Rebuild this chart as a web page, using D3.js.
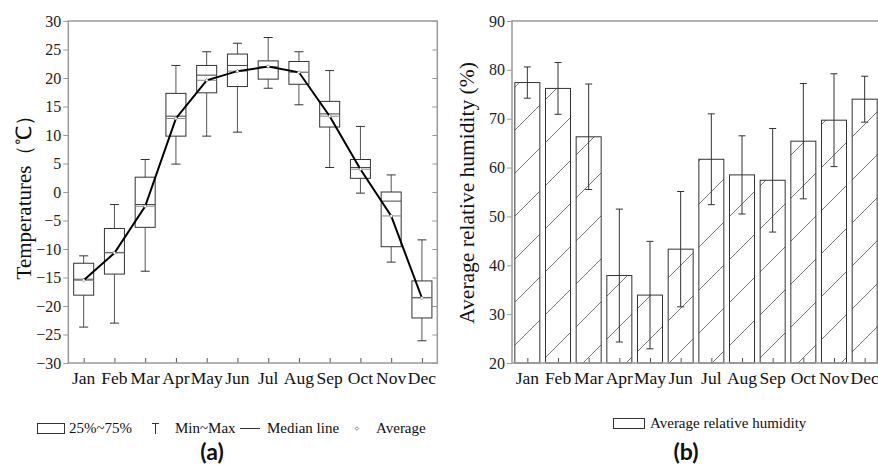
<!DOCTYPE html>
<html>
<head>
<meta charset="utf-8">
<script src="https://cdn.jsdelivr.net/npm/d3@7"></script>
<style>
  body { margin: 0; background: #fff; }
  .tick text { fill: #222; }
</style>
</head>
<body>
<div id="chart"></div>
<script>
// Данные — температура (a)
const months = ['Jan', 'Feb', 'Mar', 'Apr', 'May', 'Jun', 'Jul', 'Aug', 'Sep', 'Oct', 'Nov', 'Dec'];
const tempMin = [-23.7, -23.0, -13.9, 4.9, 9.8, 10.5, 18.2, 15.3, 4.3, -0.2, -12.3, -26.1];
const tempQ1 = [-18.1, -14.4, -6.2, 9.8, 17.4, 18.5, 19.8, 18.9, 11.4, 2.4, -9.6, -22.1];
const tempMedian = [-15.3, -10.6, -2.2, 13.3, 20.5, 22.2, 22.0, 21.0, 13.7, 4.3, -1.6, -18.5];
const tempQ3 = [-12.5, -6.4, 2.6, 17.3, 22.2, 24.2, 23.0, 22.9, 15.9, 5.7, 0.0, -15.6];
const tempMax = [-11.2, -2.2, 5.7, 22.2, 24.6, 26.1, 27.1, 24.6, 21.3, 11.5, 3.0, -8.4];
const tempMean = [-15.5, -10.7, -2.5, 12.9, 19.6, 21.2, 22.0, 21.0, 13.3, 4.0, -4.2, -18.6];
const tempTicks = [-30, -25, -20, -15, -10, -5, 0, 5, 10, 15, 20, 25, 30];

// Данные — влажность (b)
const humMean = [77.4, 76.2, 66.3, 37.9, 33.9, 43.3, 61.7, 58.5, 57.4, 65.4, 69.7, 74.0];
const humSd = [3.2, 5.3, 10.8, 13.6, 11.0, 11.8, 9.3, 8.0, 10.6, 11.8, 9.5, 4.7];
const humTicks = [20, 30, 40, 50, 60, 70, 80, 90];

const width = 878;
const height = 469;
const serif = "'Liberation Serif', 'Times New Roman', serif";
const frameColor = '#9a9a9a';
const markColor = '#333';

const svg = d3.select('#chart')
  .append('svg')
  .attr('width', width)
  .attr('height', height)
  .attr('font-family', serif)
  .style('display', 'block');

const defs = svg.append('defs');
const hatch = defs.append('pattern')
  .attr('id', 'hatch')
  .attr('patternUnits', 'userSpaceOnUse')
  .attr('width', 43)
  .attr('height', 43);
hatch.append('rect').attr('width', 43).attr('height', 43).attr('fill', '#fff');
hatch.append('path')
  .attr('d', 'M0,43 L43,0')
  .attr('stroke', '#555')
  .attr('stroke-width', 0.8);

// Рамка панели и оси
function drawFrame(g, x, y, ticks, right) {
  const [x0, x1] = x.range();
  const [y0, y1] = y.range();

  const yAxis = g.append('g')
    .attr('transform', `translate(${x0},0)`)
    .call(d3.axisLeft(y).tickValues(ticks).tickSize(5).tickPadding(2));
  yAxis.attr('font-family', serif).attr('font-size', 16);
  yAxis.select('.domain').remove();
  yAxis.selectAll('.tick line').attr('stroke', frameColor);

  if (right) {
    const rAxis = g.append('g')
      .attr('transform', `translate(${x1},0)`)
      .call(d3.axisLeft(y).tickValues(ticks).tickSize(5).tickFormat(''));
    rAxis.select('.domain').remove();
    rAxis.selectAll('.tick line').attr('stroke', frameColor).attr('x2', -5);
  }

  const xAxis = g.append('g')
    .attr('transform', `translate(0,${y0})`)
    .call(d3.axisTop(x).tickValues(d3.range(1, 13)).tickSize(5).tickFormat(''));
  xAxis.select('.domain').remove();
  xAxis.selectAll('.tick line').attr('stroke', '#555');

  g.selectAll('.month')
    .data(months)
    .enter()
    .append('text')
    .attr('class', 'month')
    .attr('x', (d, i) => x(i + 1))
    .attr('y', y0 + 21)
    .attr('text-anchor', 'middle')
    .attr('font-size', 17.5)
    .attr('fill', '#111')
    .text((d) => d);

  g.append('path')
    .attr('fill', 'none')
    .attr('stroke', frameColor)
    .attr('stroke-width', 1.5)
    .attr('d', `M${x0},${y1} L${x0},${y0} L${x1},${y0} L${x1},${y1} Z`);
}

// (a) Box plot
const xA = d3.scaleLinear().domain([0.5, 12.5]).range([68.3, 437.3]);
const yA = d3.scaleLinear().domain([-30, 30]).range([363, 21]);
const gA = svg.append('g');
drawFrame(gA, xA, yA, tempTicks, true);

const boxW = 20;
const capW = 9;
months.forEach((m, i) => {
  const cx = xA(i + 1);
  const box = gA.append('g').attr('stroke', markColor).attr('fill', 'none');
  box.append('line')
    .attr('x1', cx).attr('x2', cx)
    .attr('y1', yA(tempQ3[i])).attr('y2', yA(tempMax[i]))
    .attr('stroke', '#555');
  box.append('line')
    .attr('x1', cx).attr('x2', cx)
    .attr('y1', yA(tempQ1[i])).attr('y2', yA(tempMin[i]))
    .attr('stroke', '#555');
  [tempMax[i], tempMin[i]].forEach((v) => {
    box.append('line')
      .attr('x1', cx - capW / 2).attr('x2', cx + capW / 2)
      .attr('y1', yA(v)).attr('y2', yA(v));
  });
  box.append('rect')
    .attr('x', cx - boxW / 2)
    .attr('y', yA(tempQ3[i]))
    .attr('width', boxW)
    .attr('height', yA(tempQ1[i]) - yA(tempQ3[i]))
    .attr('fill', '#fff');
  box.append('line')
    .attr('x1', cx - boxW / 2).attr('x2', cx + boxW / 2)
    .attr('y1', yA(tempMedian[i])).attr('y2', yA(tempMedian[i]))
    .attr('stroke', '#444');
  box.append('line')
    .attr('x1', cx - boxW / 2).attr('x2', cx + boxW / 2)
    .attr('y1', yA(tempMean[i])).attr('y2', yA(tempMean[i]))
    .attr('stroke', '#888');
});

gA.append('path')
  .datum(tempMean)
  .attr('fill', 'none')
  .attr('stroke', '#000')
  .attr('stroke-width', 2)
  .attr('d', d3.line().x((d, i) => xA(i + 1)).y((d) => yA(d)));

gA.selectAll('.mean')
  .data(tempMean)
  .enter()
  .append('path')
  .attr('class', 'mean')
  .attr('transform', (d, i) => `translate(${xA(i + 1)},${yA(d)})`)
  .attr('d', d3.symbol(d3.symbolDiamond2, 8))
  .attr('fill', '#fff')
  .attr('stroke', '#666')
  .attr('stroke-width', 0.6);

gA.append('text')
  .attr('transform', `translate(31,${(yA.range()[0] + yA.range()[1]) / 2}) rotate(-90)`)
  .attr('text-anchor', 'middle')
  .attr('font-size', 21)
  .attr('fill', '#111')
  .text('Temperatures（℃）');

// (b) Bars
const xB = d3.scaleLinear().domain([0.5, 12.5]).range([512, 880]);
const yB = d3.scaleLinear().domain([20, 90]).range([363, 21]);
const gB = svg.append('g');
const barW = 25;

gB.selectAll('.bar')
  .data(humMean)
  .enter()
  .append('rect')
  .attr('class', 'bar')
  .attr('x', (d, i) => xB(i + 1) - barW / 2)
  .attr('y', (d) => yB(d))
  .attr('width', barW)
  .attr('height', (d) => yB(20) - yB(d))
  .attr('fill', 'url(#hatch)')
  .attr('stroke', markColor)
  .attr('stroke-width', 1);

humMean.forEach((v, i) => {
  const cx = xB(i + 1);
  const eb = gB.append('g').attr('stroke', markColor).attr('stroke-width', 1);
  eb.append('line')
    .attr('x1', cx).attr('x2', cx)
    .attr('y1', yB(v - humSd[i])).attr('y2', yB(v + humSd[i]));
  [v - humSd[i], v + humSd[i]].forEach((e) => {
    eb.append('line')
      .attr('x1', cx - 3.5).attr('x2', cx + 3.5)
      .attr('y1', yB(e)).attr('y2', yB(e));
  });
});

drawFrame(gB, xB, yB, humTicks, false);

gB.append('text')
  .attr('transform', `translate(474,${(yB.range()[0] + yB.range()[1]) / 2 + 1}) rotate(-90)`)
  .attr('text-anchor', 'middle')
  .attr('font-size', 21.5)
  .attr('fill', '#111')
  .text('Average relative humidity (%)');

// Легенды
const legA = svg.append('g').attr('font-size', 15).attr('fill', '#111');
legA.append('rect')
  .attr('x', 37.5).attr('y', 423.5).attr('width', 27).attr('height', 10)
  .attr('fill', '#fff').attr('stroke', markColor);
legA.append('text').attr('x', 69).attr('y', 433).text('25%~75%');
legA.append('path')
  .attr('d', 'M152,423.5 L159,423.5 M155.5,423.5 L155.5,434')
  .attr('stroke', markColor).attr('fill', 'none');
legA.append('text').attr('x', 175).attr('y', 433).text('Min~Max');
legA.append('line')
  .attr('x1', 240).attr('x2', 260).attr('y1', 428.5).attr('y2', 428.5)
  .attr('stroke', markColor);
legA.append('text').attr('x', 267).attr('y', 433).text('Median line');
legA.append('path')
  .attr('transform', 'translate(357,428.5)')
  .attr('d', d3.symbol(d3.symbolDiamond2, 8))
  .attr('fill', '#fff').attr('stroke', '#555').attr('stroke-width', 0.7);
legA.append('text').attr('x', 376).attr('y', 433).text('Average');

const legB = svg.append('g').attr('font-size', 15).attr('fill', '#111');
legB.append('rect')
  .attr('x', 613.5).attr('y', 418.5).attr('width', 31).attr('height', 10)
  .attr('fill', '#fff').attr('stroke', markColor);
legB.append('text').attr('x', 650).attr('y', 428).text('Average relative humidity');

// Подписи панелей
svg.selectAll('.panel')
  .data([['(a)', 212], ['(b)', 686]])
  .enter()
  .append('text')
  .attr('class', 'panel')
  .attr('x', (d) => d[1])
  .attr('y', 460)
  .attr('text-anchor', 'middle')
  .attr('font-family', "Lato, 'Open Sans', sans-serif")
  .attr('font-weight', 'bold')
  .attr('font-size', 23)
  .attr('fill', '#111')
  .text((d) => d[0]);
</script>
</body>
</html>
